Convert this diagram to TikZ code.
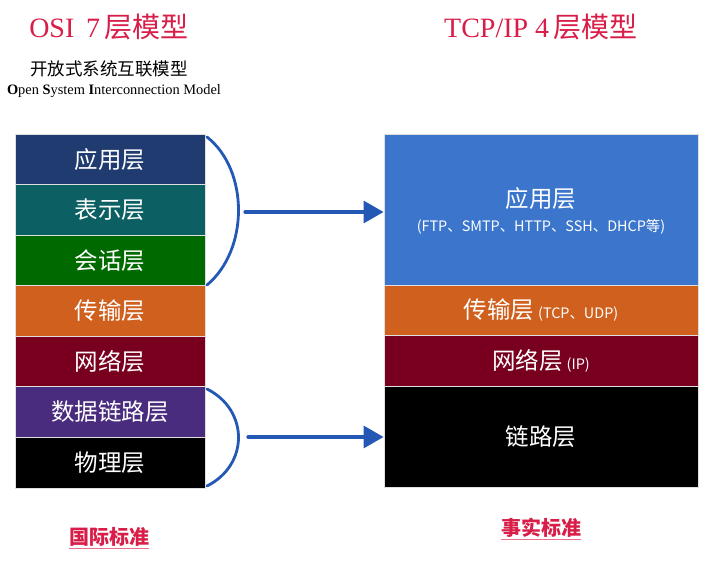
\documentclass[tikz,border=0pt]{standalone}
\usepackage{fontspec}
\setmainfont{Liberation Serif}
\newfontfamily\cjk{Noto Sans CJK SC}
\usetikzlibrary{arrows.meta}
\definecolor{titlered}{HTML}{D81E48}
\definecolor{cA}{HTML}{1F3B70}
\definecolor{cB}{HTML}{0C5F62}
\definecolor{cC}{HTML}{006A00}
\definecolor{cD}{HTML}{D0601E}
\definecolor{cE}{HTML}{78001E}
\definecolor{cF}{HTML}{4A2C7E}
\definecolor{cG}{HTML}{000000}
\definecolor{cApp}{HTML}{3B76CC}
\definecolor{arrowblue}{HTML}{2458B5}
\definecolor{ulpink}{HTML}{E8708A}
\tikzset{
  layertext/.style={text=white, inner sep=0pt, anchor=center,
    font=\cjk\fontsize{23.5}{26}\selectfont},
  layer/.style={layertext, draw=gray!25, line width=0.8pt},
  lbox/.style={layer, minimum width=190pt, minimum height=50.5pt},
  rbox/.style={layer, minimum width=314pt},
  title/.style={text=titlered, font=\fontsize{28}{32}\selectfont, inner sep=0pt},
  brace/.style={draw=arrowblue, line width=2.8pt, line cap=round},
  bigarrow/.style={draw=arrowblue, line width=3.2pt, line cap=round, -{Triangle[length=20pt,width=22pt]}},
  small/.style={font=\cjk\fontsize{14.4}{16}\selectfont},
  std/.style={text=titlered, inner sep=0pt, font=\cjk\bfseries\fontsize{20}{23}\selectfont},
  ul/.style={draw=ulpink, line width=1pt}
}
\begin{document}
\begin{tikzpicture}[x=1pt,y=-1pt]
\useasboundingbox (0,0) rectangle (710,561);
% titles
\node[title] (t1) at (109,27) {OSI\, 7\,{\cjk 层模型}};
\node[inner sep=0pt, font=\cjk\fontsize{17.5}{20}\selectfont] (t1b) at (109,69) {开放式系统互联模型};
\node[inner sep=0pt, font=\fontsize{14.4}{16}\selectfont] (t1c) at (114,91) {\textbf{O}pen \textbf{S}ystem \textbf{I}nterconnection Model};
\node[title] (t2) at (541,27) {TCP/IP 4\,{\cjk 层模型}};
% left column
\node[lbox, fill=cA] (l1) at (110,159.3) {应用层};
\node[lbox, fill=cB] (l2) at (110,209.8) {表示层};
\node[lbox, fill=cC] (l3) at (110,260.4) {会话层};
\node[lbox, fill=cD] (l4) at (110,311.0) {传输层};
\node[lbox, fill=cE] (l5) at (110,361.5) {网络层};
\node[lbox, fill=cF] (l6) at (110,412.1) {数据链路层};
\node[lbox, fill=cG] (l7) at (110,462.7) {物理层};
% right column
\node[rbox, fill=cApp, minimum height=151pt] (r1) at (541,209.5) {};
\node[layertext] (r1t) at (541,199) {应用层};
\node[layertext, small] (r1s) at (541,227) {(FTP、SMTP、HTTP、SSH、DHCP等)};
\node[rbox, fill=cD, minimum height=50.5pt] (r2) at (541,310.3) {传输层\,{\cjk\fontsize{14.4}{16}\selectfont (TCP、UDP)}};
\node[rbox, fill=cE, minimum height=50.5pt] (r3) at (541,360.8) {网络层\,{\cjk\fontsize{14.4}{16}\selectfont (IP)}};
\node[rbox, fill=cG, minimum height=101pt] (r4) at (541,436.6) {链路层};
% braces
\coordinate (b1s) at (207,137);
\coordinate (b1e) at (207,285);
\coordinate (b2s) at (207,389);
\coordinate (b2e) at (207,486);
\draw[brace] (b1s) .. controls (249,170) and (249,250) .. (b1e);
\draw[brace] (b2s) .. controls (249,410) and (249,465) .. (b2e);
% arrows
\coordinate (a1) at (245,212);
\coordinate (a2) at (248,437);
\draw[bigarrow] (a1) -- (r1.west |- a1);
\draw[bigarrow] (a2) -- (r4.west |- a2);
% standards
\node[std] (s1) at (109,537) {国际标准};
\draw[ul] ([yshift=-2pt]s1.south west) -- ([yshift=-2pt]s1.south east);
\node[std] (s2) at (541,528) {事实标准};
\draw[ul] ([yshift=-2pt]s2.south west) -- ([yshift=-2pt]s2.south east);
\end{tikzpicture}
\end{document}
